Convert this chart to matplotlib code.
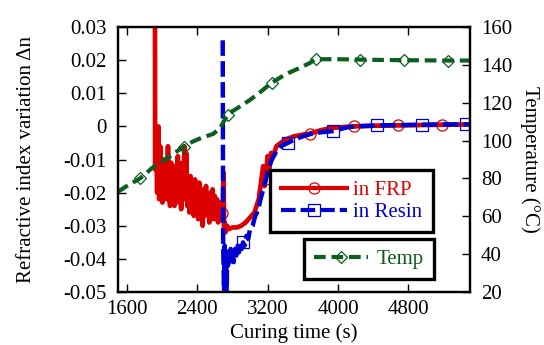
import matplotlib
matplotlib.use("Agg")
import matplotlib.pyplot as plt
from matplotlib.lines import Line2D

plt.rcParams["font.family"] = ["Liberation Serif", "DejaVu Serif"]

RED = "#dd0000"
BLUE = "#0000d0"
GREEN = "#0b5e1e"

# refractive index variation in FRP
frp_t = [1920, 1922, 1935, 1945, 1958, 1968, 1980, 1992, 2005, 2018, 2030, 2042,
         2055, 2068, 2080, 2092, 2105, 2118, 2130, 2142, 2155, 2168, 2180, 2192,
         2205, 2218, 2230, 2242, 2255, 2262, 2275, 2288, 2300, 2312, 2325, 2338,
         2350, 2362, 2375, 2388, 2400, 2412, 2425, 2438, 2450, 2462, 2475, 2488,
         2500, 2512, 2525, 2538, 2550, 2562, 2575, 2588, 2600, 2612, 2625, 2638,
         2650, 2662, 2680, 2692, 2700, 2705, 2712, 2720, 2740, 2760, 2800, 2850,
         2900, 2950, 3000, 3050, 3100, 3150, 3165, 3180, 3200, 3215, 3240, 3270,
         3300, 3350, 3400, 3500, 3600, 3680, 3800, 3900, 4000, 4180, 4400, 4680,
         4900, 5180, 5500]
frp_dn = [0.04, -0.013, -0.003, -0.020, 0.0, -0.022, -0.006, -0.017, -0.023, -0.010,
          -0.020, -0.013, -0.022, -0.006, -0.019, -0.024, -0.011, -0.021, -0.014, -0.024,
          -0.012, -0.020, -0.009, -0.023, -0.015, -0.025, -0.011, -0.021, -0.006, -0.022,
          -0.008, -0.024, -0.016, -0.026, -0.015, -0.023, -0.017, -0.027, -0.016, -0.024,
          -0.018, -0.028, -0.017, -0.025, -0.019, -0.030, -0.020, -0.027, -0.018, -0.026,
          -0.021, -0.029, -0.020, -0.027, -0.019, -0.028, -0.021, -0.027, -0.022, -0.029,
          -0.023, -0.028, -0.0262, -0.023, -0.014, -0.032, -0.029, -0.032, -0.030, -0.031,
          -0.0305, -0.0305, -0.030, -0.029, -0.0275, -0.026, -0.022, -0.012, -0.018, -0.0158,
          -0.009, -0.014, -0.008, -0.0085, -0.006, -0.005, -0.004, -0.003, -0.0025, -0.0022,
          -0.0012, -0.0006, -0.0003, 0.0, 0.0002, 0.0003, 0.0004, 0.0005, 0.0006]
frp_marks = [2680, 3180, 3680, 4180, 4680, 5180]

# refractive index variation in resin
resin_t = [2690, 2695, 2705, 2712, 2720, 2728, 2735, 2742, 2750, 2760, 2770, 2780,
           2790, 2800, 2815, 2830, 2845, 2860, 2875, 2890, 2905, 2920, 2940, 2960,
           2980, 3000, 3030, 3060, 3090, 3120, 3150, 3180, 3210, 3240, 3270, 3300,
           3350, 3430, 3500, 3600, 3700, 3800, 3945, 4100, 4200, 4445, 4700, 4950,
           5200, 5450, 5500]
resin_dn = [0.026, -0.035, -0.05, -0.036, -0.045, -0.038, -0.05, -0.037, -0.042, -0.038,
            -0.041, -0.037, -0.040, -0.038, -0.041, -0.037, -0.039, -0.036, -0.038, -0.035,
            -0.037, -0.035, -0.036, -0.033, -0.034, -0.031, -0.030, -0.027, -0.0255, -0.022,
            -0.019, -0.016, -0.013, -0.0105, -0.009, -0.0075, -0.006, -0.005, -0.004, -0.003,
            -0.0022, -0.0018, -0.0014, -0.0003, 0.0, 0.0003, 0.0004, 0.0005, 0.0006, 0.0006,
            0.0006]
resin_marks = [2920, 3430, 3945, 4445, 4950, 5450]

# temperature
temp_t = [1500, 1600, 1750, 1900, 2000, 2100, 2245, 2350, 2450, 2580, 2660, 2700,
          2745, 2800, 2886, 3000, 3100, 3245, 3350, 3450, 3570, 3680, 3745, 3850,
          4000, 4245, 4500, 4745, 5000, 5245, 5500]
temp_c = [73, 76, 80, 86, 89, 92, 96.8, 99.5, 101.5, 103.5, 106.5, 110, 113.5, 115.5,
          118, 121.5, 125, 130.5, 133.5, 136, 138.5, 141, 143, 143, 143, 142.8, 142.6,
          142.5, 142.4, 142.3, 142.3]
temp_marks = [1750, 2245, 2745, 3245, 3745, 4245, 4745, 5245]

fig = plt.figure(figsize=(5.44, 3.45), dpi=100)
ax = fig.add_axes([0.2169, 0.1536, 0.647, 0.768])
ax2 = ax.twinx()

ax.plot(frp_t, frp_dn, color=RED, lw=3.4, marker="o", ms=8, mfc="none", mec=RED, mew=0.9,
        markevery=[frp_t.index(t) for t in frp_marks])
ax.plot(resin_t, resin_dn, color=BLUE, lw=3.2, ls=(0, (3.5, 1.2)), marker="s", ms=8,
        mfc="none", mec=BLUE, mew=0.9,
        markevery=[resin_t.index(t) for t in resin_marks])
ax2.plot(temp_t, temp_c, color=GREEN, lw=3, ls=(0, (2.8, 1.4)), marker="D", ms=6.5,
         mfc="none", mec=GREEN, mew=0.9,
         markevery=[temp_t.index(t) for t in temp_marks])

ax.set_xlim(1500, 5500)
ax.set_ylim(-0.05, 0.03)
ax2.set_ylim(20, 160)
ax.set_xticks([1600, 2400, 3200, 4000, 4800])
ax.set_yticks([-0.05, -0.04, -0.03, -0.02, -0.01, 0, 0.01, 0.02, 0.03])
ax.set_yticklabels(["-0.05", "-0.04", "-0.03", "-0.02", "-0.01", "0", "0.01", "0.02", "0.03"])
ax2.set_yticks(range(20, 161, 20))

fs = 15
ax.tick_params(axis="x", direction="in", top=True, length=6, width=1, labelsize=fs, pad=6)
ax.tick_params(axis="y", direction="in", length=6, width=1, labelsize=fs, pad=8)
ax2.tick_params(axis="y", direction="in", length=6, width=1, labelsize=fs, pad=8)
for a in (ax, ax2):
    for s in a.spines.values():
        s.set_linewidth(1.6)

ax.set_xlabel("Curing time (s)", fontsize=fs, labelpad=3)
ax.set_ylabel("Refractive index variation Δn", fontsize=fs, labelpad=20)
ax2.set_ylabel("Temperature (°C)", fontsize=fs, rotation=-90, labelpad=20)

h_frp = Line2D([], [], color=RED, lw=3, marker="o", ms=8, mfc="none", mec=RED, mew=0.9)
h_res = Line2D([], [], color=BLUE, lw=3, ls=(0, (3.5, 1.2)), marker="s", ms=8,
               mfc="none", mec=BLUE, mew=0.9)
h_tmp = Line2D([], [], color=GREEN, lw=3, ls=(0, (2.8, 1.4)), marker="D", ms=6.5,
               mfc="none", mec=GREEN, mew=0.9)

leg1 = ax2.legend([h_frp, h_res], ["in FRP", "in Resin"], loc="upper right",
                  bbox_to_anchor=(0.895, 0.46), borderaxespad=0, fontsize=fs,
                  labelcolor=[RED, BLUE], fancybox=False, framealpha=1,
                  edgecolor="black", handlelength=3.2, handletextpad=0.3,
                  borderpad=0.5, labelspacing=0.1, numpoints=1)
leg1.get_frame().set_linewidth(2.4)
ax2.add_artist(leg1)
leg2 = ax2.legend([h_tmp], ["Temp"], loc="upper right", bbox_to_anchor=(0.898, 0.2),
                  borderaxespad=0, fontsize=fs, labelcolor=[GREEN], fancybox=False,
                  framealpha=1, edgecolor="black", handlelength=2.6, handletextpad=0.4,
                  borderpad=0.5, numpoints=1)
leg2.get_frame().set_linewidth(2.4)

fig.savefig("out.png", dpi=100)
